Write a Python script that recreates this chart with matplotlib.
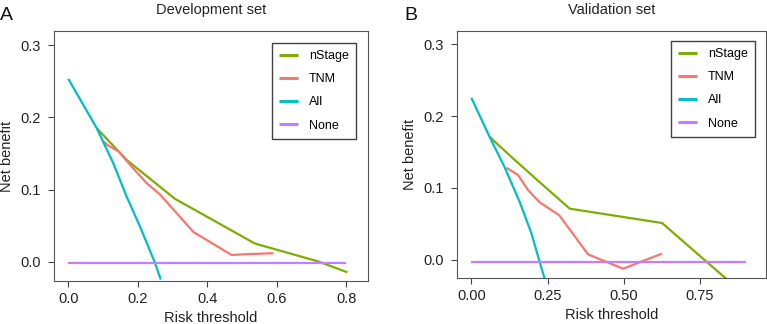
import matplotlib
matplotlib.use("Agg")
import matplotlib.pyplot as plt

plt.rcParams['font.family'] = ['Liberation Sans', 'DejaVu Sans']

# Panel A (Development set)
a_all_x = [0.0, 0.082, 0.129, 0.168, 0.206, 0.249, 0.266]
a_all_y = [0.2537, 0.185, 0.137, 0.090, 0.049, -0.0014, -0.025]
a_nstage_x = [0.082, 0.168, 0.307, 0.537, 0.72, 0.803]
a_nstage_y = [0.185, 0.141, 0.087, 0.025, 0.0, -0.015]
a_tnm_x = [0.1006, 0.115, 0.144, 0.182, 0.225, 0.264, 0.36, 0.47, 0.50, 0.59]
a_tnm_y = [0.167, 0.161, 0.153, 0.132, 0.109, 0.093, 0.041, 0.009, 0.010, 0.0116]
a_none_x = [0.0, 0.8]
a_none_y = [-0.0015, -0.0015]

# Panel B (Validation set)
b_all_x = [0.0, 0.060, 0.109, 0.159, 0.197, 0.222, 0.240]
b_all_y = [0.2256, 0.171, 0.129, 0.080, 0.037, 0.0, -0.0256]
b_nstage_x = [0.060, 0.137, 0.224, 0.323, 0.626, 0.764, 0.90]
b_nstage_y = [0.171, 0.141, 0.108, 0.071, 0.051, 0.0, -0.05]
b_tnm_x = [0.115, 0.153, 0.186, 0.224, 0.288, 0.383, 0.498, 0.626]
b_tnm_y = [0.128, 0.118, 0.097, 0.080, 0.062, 0.0074, -0.0126, 0.0084]
b_none_x = [0.0, 0.9]
b_none_y = [-0.003, -0.003]

series_names = ["nStage", "TNM", "All", "None"]
colors = {"nStage": "#7CAE00", "TNM": "#F8766D", "All": "#00BFC4", "None": "#C77CFF"}

a_xticks = [0.0, 0.2, 0.4, 0.6, 0.8]
a_xticklabels = ["0.0", "0.2", "0.4", "0.6", "0.8"]
b_xticks = [0.0, 0.25, 0.5, 0.75]
b_xticklabels = ["0.00", "0.25", "0.50", "0.75"]
yticks = [0.0, 0.1, 0.2, 0.3]
yticklabels = ["0.0", "0.1", "0.2", "0.3"]

W, H = 767, 324
fig = plt.figure(figsize=(W / 100, H / 100), dpi=100)


def px_axes(left, top, right, bottom):
    return fig.add_axes([left / W, 1 - bottom / H, (right - left) / W, (bottom - top) / H])


def draw(ax, data, xlim, ylim, xticks, xticklabels, title, leg_box):
    for name in series_names:
        x, y = data[name]
        ax.plot(x, y, color=colors[name], lw=1.6, label=name, solid_capstyle='butt')
    ax.set_xlim(*xlim)
    ax.set_ylim(*ylim)
    ax.set_xticks(xticks)
    ax.set_xticklabels(xticklabels)
    ax.set_yticks(yticks)
    ax.set_yticklabels(yticklabels)
    for s in ax.spines.values():
        s.set_color('#555555')
        s.set_linewidth(0.8)
    ax.tick_params(colors='#444444', labelcolor='#222222', labelsize=10.5, length=4.3, width=0.8)
    ax.tick_params(axis='y', pad=5)
    ax.set_xlabel("Risk threshold", fontsize=10.5, color='#222222', labelpad=4)
    ax.set_ylabel("Net benefit", fontsize=10.5, color='#222222', labelpad=5)
    ax.set_title(title, fontsize=10.5, color='#222222', pad=12)
    leg = ax.legend(loc='upper left', bbox_to_anchor=leg_box, frameon=True, fancybox=False,
                    fontsize=9, handlelength=1.5, handletextpad=0.9, labelspacing=0.9,
                    borderpad=0.55, borderaxespad=0)
    leg.get_frame().set_edgecolor('#111111')
    leg.get_frame().set_linewidth(1.0)
    for lh in leg.get_lines():
        lh.set_linewidth(2.2)


axA = px_axes(54, 31, 368, 281)
dataA = {"nStage": (a_nstage_x, a_nstage_y), "TNM": (a_tnm_x, a_tnm_y),
         "All": (a_all_x, a_all_y), "None": (a_none_x, a_none_y)}
draw(axA, dataA, (-0.041, 0.862), (-0.027, 0.320), a_xticks, a_xticklabels,
     "Development set", ((272 - 54) / 314, 1 - (43 - 31) / 250))

axB = px_axes(457, 31, 766, 278)
dataB = {"nStage": (b_nstage_x, b_nstage_y), "TNM": (b_tnm_x, b_tnm_y),
         "All": (b_all_x, b_all_y), "None": (b_none_x, b_none_y)}
draw(axB, dataB, (-0.047, 0.967), (-0.0256, 0.3186), b_xticks, b_xticklabels,
     "Validation set", ((671 - 457) / 309, 1 - (41 - 31) / 247))

fig.text(0 / W, 1 - 15.5 / H, "A", fontsize=14, va='center', ha='left', color='#111111')
fig.text(404 / W, 1 - 15.5 / H, "B", fontsize=14, va='center', ha='left', color='#111111')

fig.savefig("out.png", dpi=100)
